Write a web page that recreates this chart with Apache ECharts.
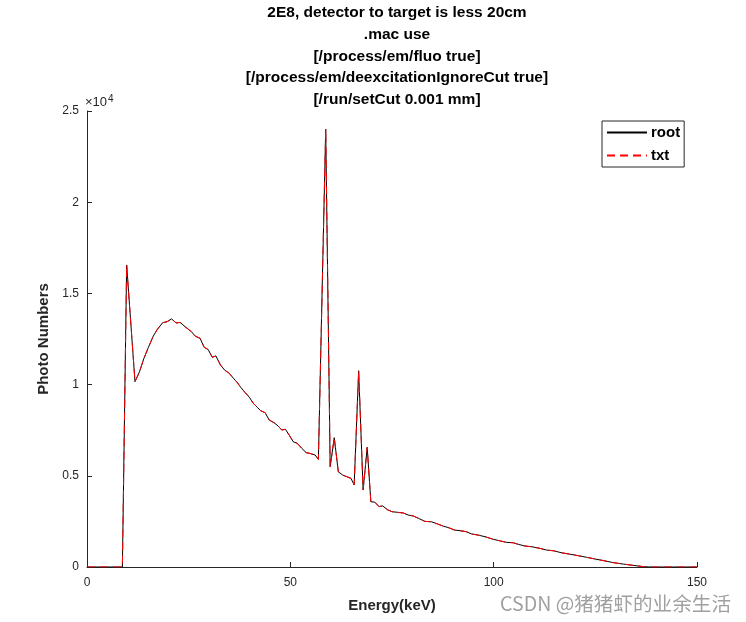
<!DOCTYPE html>
<html>
<head>
<meta charset="utf-8">
<script src="https://cdn.jsdelivr.net/npm/echarts@6/dist/echarts.min.js"></script>
<style>
html,body{margin:0;padding:0;background:#fff;}
#chart{width:746px;height:622px;}
</style>
</head>
<body>
<div id="chart"></div>
<script>
const titleLines = [
  "2E8, detector to target is less 20cm",
  ".mac use",
  "[/process/em/fluo true]",
  "[/process/em/deexcitationIgnoreCut true]",
  "[/run/setCut 0.001 mm]"
];
const seriesNames = ["root", "txt"];
const energyKeV = [0, 8.7, 9.75, 11.8, 12.9, 14.0, 15.1, 16.3, 17.3, 18.6, 19.7, 20.8, 21.9, 22.9, 24.3, 25.7, 26.6, 27.8, 28.8, 29.8, 30.8, 31.7, 32.8, 33.9, 34.9, 36.0, 37.0, 37.8, 38.9, 39.9, 40.9, 41.9, 42.7, 43.8, 44.8, 46.0, 47.0, 47.9, 48.8, 49.7, 50.7, 51.7, 52.8, 53.9, 54.8, 56.1, 56.9, 58.7, 59.8, 60.8, 61.8, 62.9, 63.9, 64.9, 65.7, 66.8, 67.9, 68.9, 69.8, 70.8, 71.8, 72.7, 73.9, 75.0, 76.3, 77.8, 79.0, 80.2, 81.5, 83.1, 84.7, 86.2, 87.6, 89.0, 90.3, 91.7, 93.2, 94.6, 96.2, 97.9, 99.9, 101.6, 103.2, 104.8, 106.1, 107.7, 109.4, 111.4, 113.0, 114.7, 116.7, 118.8, 120.8, 122.9, 124.9, 127.0, 129.4, 131.9, 134.3, 136.8, 138.4, 150];
const rootCounts = [0, 0, 16560, 10160, 10700, 11440, 12040, 12660, 13030, 13390, 13450, 13600, 13380, 13410, 13140, 12900, 12660, 12540, 12050, 11920, 11500, 11570, 11080, 10780, 10640, 10350, 10100, 9850, 9560, 9310, 8970, 8750, 8570, 8460, 8060, 7910, 7730, 7510, 7550, 7240, 6870, 6780, 6510, 6270, 6230, 6140, 5900, 24000, 5500, 7090, 5220, 5040, 4950, 4860, 4500, 10760, 4220, 6560, 3580, 3550, 3310, 3350, 3140, 3030, 3000, 2960, 2850, 2800, 2670, 2500, 2480, 2360, 2240, 2150, 2030, 1990, 1940, 1810, 1750, 1660, 1520, 1430, 1350, 1330, 1240, 1150, 1110, 1020, 930, 890, 780, 700, 620, 530, 440, 350, 240, 160, 90, 20, 0, 0];
const txtCounts = [0, 0, 16560, 10160, 10700, 11440, 12040, 12660, 13030, 13390, 13450, 13600, 13380, 13410, 13140, 12900, 12660, 12540, 12050, 11920, 11500, 11570, 11080, 10780, 10640, 10350, 10100, 9850, 9560, 9310, 8970, 8750, 8570, 8460, 8060, 7910, 7730, 7510, 7550, 7240, 6870, 6780, 6510, 6270, 6230, 6140, 5900, 24000, 5500, 7090, 5220, 5040, 4950, 4860, 4500, 10760, 4220, 6560, 3580, 3550, 3310, 3350, 3140, 3030, 3000, 2960, 2850, 2800, 2670, 2500, 2480, 2360, 2240, 2150, 2030, 1990, 1940, 1810, 1750, 1660, 1520, 1430, 1350, 1330, 1240, 1150, 1110, 1020, 930, 890, 780, 700, 620, 530, 440, 350, 240, 160, 90, 20, 0, 0];
const xTicks = [0, 50, 100, 150];
const yTickLabels = ["0", "0.5", "1", "1.5", "2", "2.5"];

const FONT = '"Liberation Sans", Arial, sans-serif';
const AX = '#262626';
const chart = echarts.init(document.getElementById('chart'), null, {renderer: 'canvas'});
const pairs = (ys) => energyKeV.map((x, i) => [x, ys[i]]);

chart.setOption({
  animation: false,
  backgroundColor: '#ffffff',
  title: {
    text: titleLines.join('\n'),
    left: 392, top: -3, textAlign: 'center',
    textStyle: {fontFamily: FONT, fontSize: 15.5, fontWeight: 'bold', color: '#000', lineHeight: 21.7}
  },
  grid: {left: 87, right: 49, top: 111, bottom: 55, containLabel: false},
  legend: {
    orient: 'vertical', left: 602, top: 121,
    padding: [4, 4, 4, 4], itemGap: 8, itemWidth: 40, itemHeight: 14,
    backgroundColor: '#fff', borderColor: AX, borderWidth: 1,
    itemStyle: {color: 'rgba(0,0,0,0)', borderColor: 'rgba(0,0,0,0)', borderWidth: 0},
    textStyle: {fontFamily: FONT, fontSize: 15, fontWeight: 'bold', color: '#000', padding: [0, 0, 0, -1]},
    data: seriesNames
  },
  xAxis: {
    type: 'value', min: xTicks[0], max: xTicks[xTicks.length - 1], interval: xTicks[1] - xTicks[0],
    name: 'Energy(keV)', nameLocation: 'middle', nameGap: 31,
    nameTextStyle: {fontFamily: FONT, fontSize: 15, fontWeight: 'bold', color: AX},
    axisLine: {show: true, lineStyle: {color: AX, width: 1}},
    axisTick: {show: true, inside: true, length: 5, lineStyle: {color: AX}},
    axisLabel: {fontFamily: FONT, fontSize: 12, color: AX, margin: 10},
    splitLine: {show: false}
  },
  yAxis: {
    type: 'value', min: 0, max: 25000, interval: 5000,
    name: 'Photo Numbers', nameLocation: 'middle', nameGap: 31, nameRotate: 90,
    nameTextStyle: {fontFamily: FONT, fontSize: 15, fontWeight: 'bold', color: AX},
    axisLine: {show: true, lineStyle: {color: AX, width: 1}},
    axisTick: {show: true, inside: true, length: 5, lineStyle: {color: AX}},
    axisLabel: {fontFamily: FONT, fontSize: 12, color: AX, margin: 8,
      formatter: (v) => yTickLabels[Math.round(v / 5000)]},
    splitLine: {show: false}
  },
  graphic: [
    {type: 'text', left: 85, top: 94,
      style: {text: '{a|×10}{s|4}', rich: {
        a: {fontFamily: FONT, fontSize: 13, fill: AX},
        s: {fontFamily: FONT, fontSize: 10, fill: AX, verticalAlign: 'top', padding: [0, 0, 6, 1]}
      }}},
    {type: 'text', left: 500, top: 594,
      style: {text: 'CSDN @猪猪虾的业余生活', fontFamily: '"Noto Sans CJK SC", "Noto Sans", sans-serif', fontSize: 19.6, fill: '#a0a0a0'}}
  ],
  series: [
    {name: seriesNames[0], type: 'line', data: pairs(rootCounts), symbol: 'none', silent: true,
      lineStyle: {color: '#000000', width: 1}, itemStyle: {color: '#000000'}, z: 2},
    {name: seriesNames[1], type: 'line', data: pairs(txtCounts), symbol: 'none', silent: true,
      lineStyle: {color: '#ff0000', width: 1, type: [8, 5]}, itemStyle: {color: '#ff0000'}, z: 3}
  ]
});
</script>
</body>
</html>
